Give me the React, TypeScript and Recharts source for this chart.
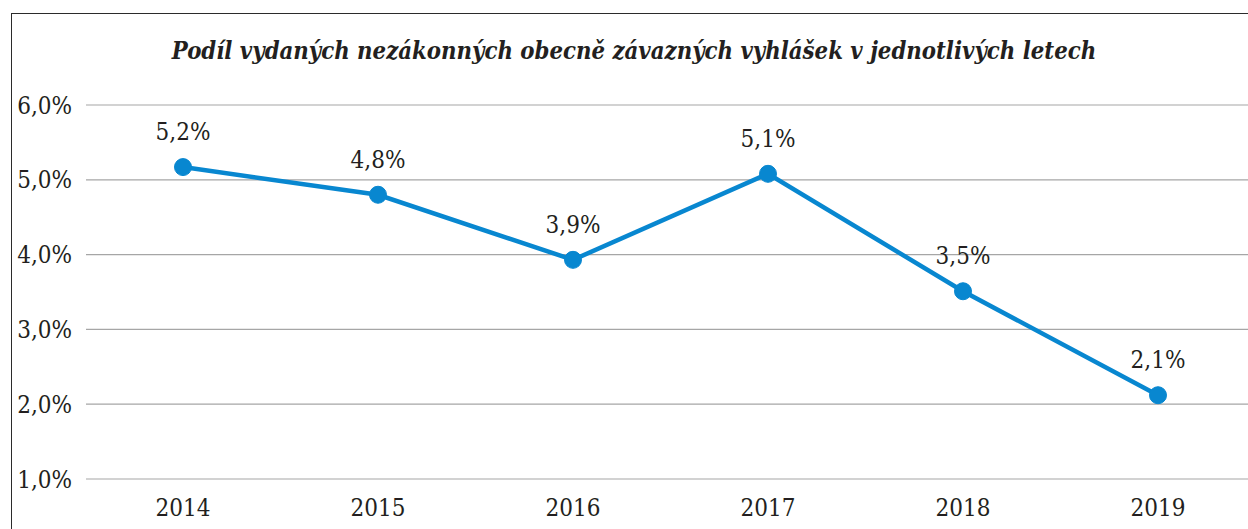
import React from 'react';
import { LineChart, Line, XAxis, YAxis, CartesianGrid, LabelList } from 'recharts';

const years = ['2014', '2015', '2016', '2017', '2018', '2019'];
const shares = [5.17, 4.8, 3.93, 5.08, 3.51, 2.12];
const yTicks = [1, 2, 3, 4, 5, 6];

const data = years.map((year, i) => ({ year, share: shares[i] }));

const serif = "'DejaVu Serif Condensed', 'DejaVu Serif', serif";
const blue = '#0887D0';
const ink = '#231f20';
const fmt = (v: number) => `${v.toFixed(1).replace('.', ',')}%`;

const textStyle = { fontFamily: serif, fontStretch: 'condensed' as const };

export default function App() {
  return (
    <div
      style={{
        position: 'fixed',
        left: 0,
        top: 0,
        width: 1248,
        height: 529,
        overflow: 'hidden',
        background: '#fff',
      }}
    >
      {/* frame, runs off the right and bottom edges */}
      <div
        style={{
          position: 'absolute',
          left: 11,
          top: 13,
          width: 1300,
          height: 600,
          borderLeft: '1.5px solid #2b2b2b',
          borderTop: '1.5px solid #2b2b2b',
        }}
      />
      <div
        style={{
          position: 'absolute',
          left: 0,
          top: 37,
          width: 1268,
          textAlign: 'center',
          ...textStyle,
          fontWeight: 'bold',
          fontStyle: 'italic',
          fontSize: 23.7,
          color: ink,
        }}
      >
        Podíl vydaných nezákonných obecně závazných vyhlášek v jednotlivých letech
      </div>
      <div style={{ position: 'absolute', left: 0, top: 0 }}>
        <LineChart
          width={1255}
          height={529}
          data={data}
          margin={{ top: 105, right: 0, bottom: 0, left: 0 }}
        >
          <CartesianGrid vertical={false} stroke="#a6a6a6" strokeWidth={1.2} />
          <XAxis
            dataKey="year"
            tickLine={false}
            axisLine={false}
            height={50}
            tickMargin={14}
            padding={{ left: 97, right: 97 }}
            tick={{ fill: ink, fontSize: 24, style: textStyle }}
          />
          <YAxis
            domain={[1, 6]}
            ticks={yTicks}
            tickFormatter={fmt}
            tickLine={false}
            axisLine={false}
            width={86}
            tickMargin={8}
            tick={{ fill: ink, fontSize: 24, style: textStyle }}
          />
          <Line
            dataKey="share"
            stroke={blue}
            strokeWidth={4.5}
            dot={{ r: 8.5, fill: blue, stroke: blue, strokeWidth: 1 }}
            isAnimationActive={false}
          >
            <LabelList
              dataKey="share"
              position="top"
              offset={27}
              formatter={(v: any) => fmt(Number(v))}
              style={{ fill: ink, fontSize: 24, ...textStyle }}
            />
          </Line>
        </LineChart>
      </div>
    </div>
  );
}
